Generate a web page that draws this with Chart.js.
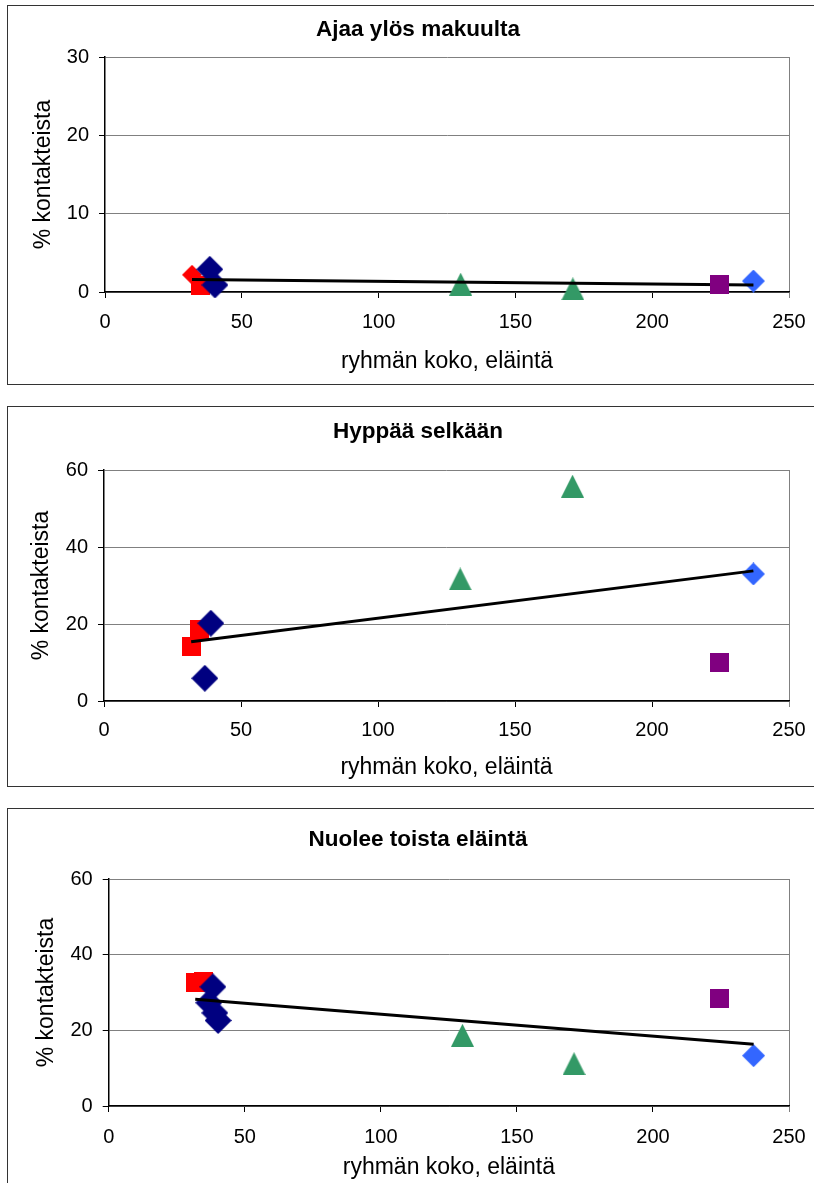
<!DOCTYPE html>
<html>
<head>
<meta charset="utf-8">
<script src="https://cdn.jsdelivr.net/npm/chart.js@4"></script>
<style>
  body { margin:0; background:#fff; overflow:hidden; width:814px; height:1183px; position:relative; }
  .box { position:absolute; left:7px; width:900px; border:1.5px solid #333; }
  canvas { position:absolute; left:0; }
</style>
</head>
<body>
<div class="box" style="top:5px;height:377.5px"></div>
<div class="box" style="top:406px;height:378.5px"></div>
<div class="box" style="top:808px;height:400px"></div>
<canvas id="c1" width="836" height="379" style="top:6px"></canvas>
<canvas id="c2" width="836" height="380" style="top:407px"></canvas>
<canvas id="c3" width="836" height="374" style="top:809px"></canvas>
<script>
// ===== Data =====
const titles = ["Ajaa ylös makuulta", "Hyppää selkään", "Nuolee toista eläintä"];
const xLabel = "ryhmän koko, eläintä";
const yLabel = "% kontakteista";
const xTicks = [0, 50, 100, 150, 200, 250];
const yMax = [30, 60, 60];
const yStep = [10, 20, 20];

// group sizes (x)
const redSize = [31.8, 34.9];
const navySize = [36.8, 38.3, 39.0, 40.2];
const greenSize = [130, 171];
const purpleSize = [224.5];
const blueSize = [237];
const trendSize = [31.8, 237];

// % of contacts, one row per chart
const redPct = [[2.2, 0.8], [14.1, 18.6], [32.6, 33.0]];
const navyPct = [[null, 2.9, null, 0.9], [5.9, null, 20.2, null], [27.3, 31.5, 24.6, 22.6]];
const greenPct = [[1.0, 0.4], [31.7, 55.8], [18.7, 11.2]];
const purplePct = [[0.9], [9.95], [28.3]];
const bluePct = [[1.4], [33.0], [13.3]];
const trendPct = [[1.6, 0.9], [15.4, 33.8], [28.2, 16.3]];

// ===== Markers =====
function marker(shape, color, w, h){
  const c = document.createElement("canvas");
  c.width = w; c.height = h;
  const g = c.getContext("2d");
  g.fillStyle = color;
  g.beginPath();
  if(shape === "square") g.rect(0, 0, w, h);
  else if(shape === "diamond"){ g.moveTo(w/2,0); g.lineTo(w,h/2); g.lineTo(w/2,h); g.lineTo(0,h/2); }
  else { g.moveTo(w/2,0); g.lineTo(w,h); g.lineTo(0,h); }
  g.closePath(); g.fill();
  return c;
}
const redMark = marker("square", "#ff0000", 19, 19);
const redDiamond = marker("diamond", "#ff0000", 20, 20);
const navyMark = marker("diamond", "#000080", 27, 27);
const greenMark = marker("triangle", "#339966", 23, 23);
const purpleMark = marker("square", "#800080", 19, 19);
const blueMark = marker("diamond", "#3366ff", 23, 23);

// ===== Layout per chart =====
const geo = [
  { tTop:10.5, tBot:13.5, xH:93, xPad:12, xtPad:9.2, yW:105, ytPad:30.2 },
  { tTop:11.2, tBot:24.8, xH:86, xPad:11, xtPad:5.2, yW:104, ytPad:27.7 },
  { tTop:17.5, tBot:25.5, xH:77, xPad:13, xtPad:1.2, yW:108.7, ytPad:33.2 }
];

Chart.defaults.font.family = "'Liberation Sans', Arial, sans-serif";
Chart.defaults.color = "#000";

const pts = (xs, ys) => xs.map((x, k) => ({x: x, y: ys[k]})).filter(p => p.y != null);

function makeChart(id, i){
  const g = geo[i];
  const base = { pointRadius:10, pointHoverRadius:10, clip:false, showLine:false };
  new Chart(document.getElementById(id), {
    type: "scatter",
    data: { datasets: [
      Object.assign({ data: pts(purpleSize, purplePct[i]), pointStyle: purpleMark, order:0 }, base),
      { type:"line", data: pts(trendSize, trendPct[i]), borderColor:"#000", borderWidth:3, pointRadius:0, fill:false, order:1, clip:false },
      Object.assign({ data: pts(navySize, navyPct[i]), pointStyle: navyMark, order:2 }, base),
      Object.assign({ data: pts(redSize, redPct[i]), pointStyle: i === 0 ? [redDiamond, redMark] : redMark, order:3 }, base),
      Object.assign({ data: pts(greenSize, greenPct[i]), pointStyle: greenMark, order:4 }, base),
      Object.assign({ data: pts(blueSize, bluePct[i]), pointStyle: blueMark, order:5 }, base)
    ]},
    options: {
      responsive:false, animation:false, devicePixelRatio:1,
      layout: { padding:0 },
      plugins: {
        legend: { display:false }, tooltip: { enabled:false },
        title: { display:true, text:titles[i], color:"#000",
          font:{ size:22.5, weight:"bold", lineHeight:1.2 },
          padding:{ top:g.tTop, bottom:g.tBot } }
      },
      scales: {
        x: {
          type:"linear", min:0, max:250,
          afterBuildTicks: s => { s.ticks = xTicks.map(v => ({value:v})); },
          ticks:{ color:"#000", font:{ size:20 }, padding:g.xPad, maxRotation:0, autoSkip:false },
          grid:{ color: c => (c.tick && c.tick.value === 250) ? "#808080" : "rgba(0,0,0,0)",
                 tickColor: c => (c.tick && c.tick.value === 250) ? "#808080" : "#000",
                 tickLength:6, lineWidth:1 },
          border:{ color:"#000", width:1.5 },
          title:{ display:true, text:xLabel, color:"#000", font:{ size:23 }, padding:{ top:0, bottom:g.xtPad } },
          afterFit: s => { s.height = g.xH; }
        },
        y: {
          min:0, max:yMax[i],
          ticks:{ stepSize:yStep[i], color:"#000", font:{ size:20 }, padding:10 },
          grid:{ color:"#808080", tickColor:"#000", tickLength:6, lineWidth:1 },
          border:{ color:"#000", width:1.5 },
          title:{ display:true, text:yLabel, color:"#000", font:{ size:23 }, padding:{ top:g.ytPad, bottom:0 } },
          afterFit: s => { s.width = g.yW; }
        },
        y2: {
          position:"right", display:true,
          ticks:{ display:false }, grid:{ display:false }, border:{ display:false },
          afterFit: s => { s.width = 47; }
        }
      }
    }
  });
}

makeChart("c1", 0);
makeChart("c2", 1);
makeChart("c3", 2);
</script>
</body>
</html>
